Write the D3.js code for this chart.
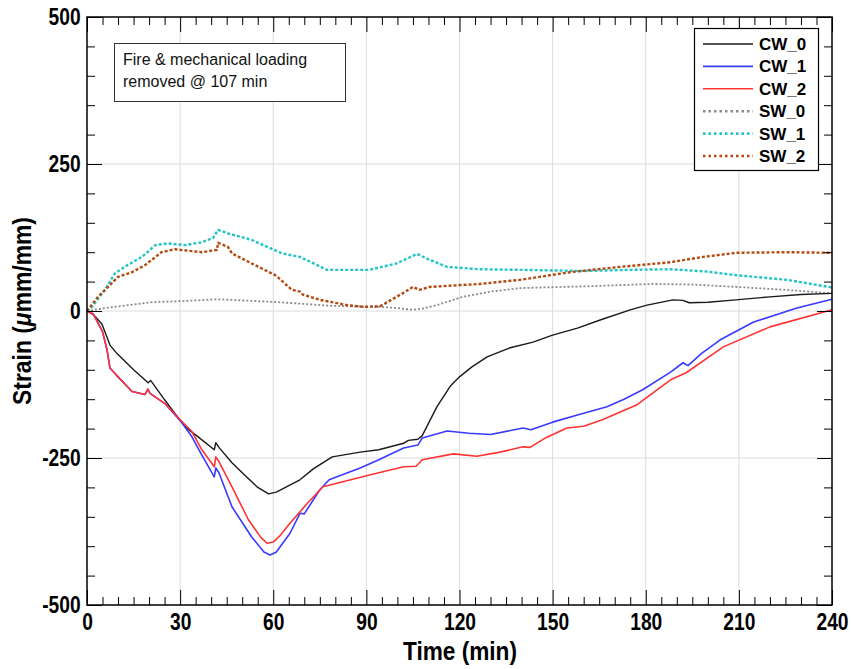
<!DOCTYPE html>
<html>
<head>
<meta charset="utf-8">
<script src="https://cdn.jsdelivr.net/npm/d3@7"></script>
<style>
  body { margin: 0; background: #fff; }
  svg { display: block; }
</style>
</head>
<body>
<svg id="chart" width="851" height="669"></svg>
<script>
// ---- data ----
const xTicks = [0, 30, 60, 90, 120, 150, 180, 210, 240];
const yTicks = [-500, -250, 0, 250, 500];
const seriesNames = ["CW_0", "CW_1", "CW_2", "SW_0", "SW_1", "SW_2"];

const cw0T = [0, 2, 4.8, 7.4, 9.6, 15, 19.7, 20.5, 25, 31.6, 36, 41, 41.5, 42.5, 46.7, 50, 55, 58.5, 61, 65, 68.6, 73, 79, 88, 94, 102, 103.5, 106.6, 108, 112.7, 117, 120, 124, 128.9, 136, 143.7, 150, 158, 166, 175, 180.4, 188.8, 192, 194, 200, 209, 220, 230, 240];
const cw0V = [0, -6, -22, -58, -72, -100, -122, -118, -151, -197, -215, -236, -224, -232, -258, -275, -300, -311, -308, -297, -287, -268, -248, -240, -236, -225, -220, -218, -212, -163, -128, -112, -95, -78, -63, -53, -41, -29, -14, 2, 10, 19, 18, 14, 15, 19, 24, 28, 30];

const cw1T = [0, 2, 5, 6.4, 7.4, 10, 14.5, 18.7, 19.6, 20.3, 25, 30.6, 33.8, 37, 41, 41.5, 42.5, 46.7, 53, 57, 59, 61, 65.4, 68.6, 70, 75, 78, 88, 94, 102, 106.6, 108, 116, 123, 130, 140.5, 143, 150, 158, 167.5, 173, 179, 188, 192, 193.6, 198, 204, 214.6, 228.7, 240];
const cw1V = [0, -5, -35, -65, -97, -112, -137, -142, -133, -140, -157, -190, -214, -245, -282, -267, -275, -333, -384, -410, -415, -410, -378, -344, -345, -304, -287, -267, -253, -233, -228, -216, -204, -208, -210, -199, -202, -189, -177, -163, -150, -134, -104, -88, -93, -72, -49, -19, 5, 20];

const cw2T = [0, 2, 5, 6.4, 7.4, 10, 14.5, 18.7, 19.6, 20.3, 25, 30.6, 33.8, 37, 41, 41.5, 42.5, 46.7, 52, 56, 58, 60, 62, 65.4, 71, 76, 80.5, 91, 102, 106, 108, 118, 125.6, 133, 140.5, 142.7, 148, 154.6, 160, 166, 177, 188, 193, 205, 220, 240];
const cw2V = [0, -5, -35, -65, -97, -112, -137, -142, -133, -140, -157, -188, -205, -236, -265, -248, -256, -299, -355, -385, -395, -393, -383, -361, -327, -299, -293, -279, -265, -264, -253, -243, -247, -240, -231, -232, -215, -199, -196, -185, -160, -117, -105, -61, -27, 2];

const sw0T = [0, 5.8, 12, 21, 31.6, 42, 50, 61.5, 70, 78, 94, 100, 105, 108, 112.7, 121, 130, 139.5, 161, 182.3, 195, 209, 225, 240];
const sw0V = [0, 5, 9, 15, 17, 20, 18, 15, 12, 9, 7, 5, 2, 4, 10, 24, 33, 39, 42, 46, 45, 41, 36, 30];

const sw1T = [0, 1.6, 5.8, 9, 13, 17.7, 22, 26, 31.6, 37, 40.6, 42.2, 45.4, 53, 62.8, 68.6, 77.3, 91, 99.8, 106.3, 110, 116, 126.6, 139.5, 160, 175, 188, 200, 209, 225.5, 240];
const sw1V = [0, 7, 36, 64, 78, 92, 112, 115, 112, 117, 124, 138, 132, 121, 98, 92, 70, 70, 81, 97, 88, 75, 71, 70, 68, 70, 71, 67, 61, 53, 40];

const sw2T = [0, 3.5, 6.8, 10, 14.5, 18.7, 24, 28.3, 37, 41.9, 42.2, 45.4, 46.7, 53, 60.6, 62, 66, 68.6, 69.5, 75, 83.8, 89, 94.4, 102, 105, 107, 110.5, 126.6, 139.5, 155.6, 171.7, 188, 198.5, 209, 225.5, 240];
const sw2V = [0, 24, 41, 58, 66, 78, 100, 105, 100, 104, 116, 109, 98, 81, 61, 55, 36, 33, 28, 19, 10, 7, 8, 31, 41, 36, 41, 46, 53, 66, 75, 83, 92, 99, 100, 99];

const annotationLines = ["Fire & mechanical loading", "removed @ 107 min"];

// ---- styles ----
const styles = {
  CW_0: { color: "#1a1a1a", width: 1.4, dash: null },
  CW_1: { color: "#3a3aff", width: 1.6, dash: null },
  CW_2: { color: "#ff3333", width: 1.6, dash: null },
  SW_0: { color: "#8a8a8a", width: 1.8, dash: "2,2" },
  SW_1: { color: "#22c4c4", width: 2.4, dash: "3,2" },
  SW_2: { color: "#b34a12", width: 2.4, dash: "3,2" }
};

const svg = d3.select("#chart");
const L = 87, R = 832, T = 17, B = 605;
const x = d3.scaleLinear().domain([0, 240]).range([L, R]);
const y = d3.scaleLinear().domain([-500, 500]).range([B, T]);
const fmt = d => String(d);

// grid
const grid = svg.append("g");
grid.selectAll("line.gx").data(xTicks.slice(1, -1)).enter().append("line")
  .attr("x1", d => x(d)).attr("x2", d => x(d)).attr("y1", T).attr("y2", B)
  .attr("stroke", "#dcdcdc").attr("stroke-width", 1);
grid.selectAll("line.gy").data(yTicks.slice(1, -1)).enter().append("line")
  .attr("x1", L).attr("x2", R).attr("y1", d => y(d)).attr("y2", d => y(d))
  .attr("stroke", "#dcdcdc").attr("stroke-width", 1);

// series
const allSeries = [
  { name: "CW_0", t: cw0T, v: cw0V },
  { name: "CW_1", t: cw1T, v: cw1V },
  { name: "CW_2", t: cw2T, v: cw2V },
  { name: "SW_0", t: sw0T, v: sw0V },
  { name: "SW_1", t: sw1T, v: sw1V },
  { name: "SW_2", t: sw2T, v: sw2V }
];
const line = d3.line().x(d => x(d[0])).y(d => y(d[1]));
const drawOrder = ["SW_0", "SW_1", "SW_2", "CW_0", "CW_1", "CW_2"];
drawOrder.forEach(n => {
  const s = allSeries.find(a => a.name === n);
  const st = styles[n];
  svg.append("path")
    .attr("d", line(s.t.map((t, i) => [t, s.v[i]])))
    .attr("fill", "none")
    .attr("stroke", st.color)
    .attr("stroke-width", st.width)
    .attr("stroke-dasharray", st.dash)
    .attr("stroke-linejoin", "round");
});

// axes
const minorX = d3.range(0, 241, 5).filter(v => v % 30 !== 0);
const minorY = d3.range(-500, 501, 50).filter(v => v % 250 !== 0);
function styleAxis(g) {
  g.select(".domain").remove();
  g.selectAll(".tick line").attr("stroke", "#000").attr("stroke-width", 1);
}
// bottom
const gb = svg.append("g").attr("transform", `translate(0,${B})`)
  .call(d3.axisBottom(x).tickValues(xTicks).tickSizeInner(-15).tickSizeOuter(0).tickPadding(8).tickFormat(fmt));
styleAxis(gb);
gb.selectAll(".tick text")
  .attr("font-family", "Liberation Sans, Arial, sans-serif")
  .attr("font-weight", "bold").attr("font-size", 24).attr("fill", "#000")
  .attr("transform", "scale(0.8,1)");
svg.append("g").attr("transform", `translate(0,${B})`)
  .call(d3.axisBottom(x).tickValues(minorX).tickSizeInner(-8).tickSizeOuter(0).tickFormat(""))
  .call(styleAxis);
// top
svg.append("g").attr("transform", `translate(0,${T})`)
  .call(d3.axisTop(x).tickValues(xTicks).tickSizeInner(-15).tickSizeOuter(0).tickFormat(""))
  .call(styleAxis);
svg.append("g").attr("transform", `translate(0,${T})`)
  .call(d3.axisTop(x).tickValues(minorX).tickSizeInner(-8).tickSizeOuter(0).tickFormat(""))
  .call(styleAxis);
// left
const gl = svg.append("g").attr("transform", `translate(${L},0)`)
  .call(d3.axisLeft(y).tickValues(yTicks).tickSizeInner(-15).tickSizeOuter(0).tickPadding(8).tickFormat(fmt));
styleAxis(gl);
gl.selectAll(".tick text")
  .attr("font-family", "Liberation Sans, Arial, sans-serif")
  .attr("font-weight", "bold").attr("font-size", 24).attr("fill", "#000")
  .attr("transform", "scale(0.8,1)");
svg.append("g").attr("transform", `translate(${L},0)`)
  .call(d3.axisLeft(y).tickValues(minorY).tickSizeInner(-8).tickSizeOuter(0).tickFormat(""))
  .call(styleAxis);
// right
svg.append("g").attr("transform", `translate(${R},0)`)
  .call(d3.axisRight(y).tickValues(yTicks).tickSizeInner(-15).tickSizeOuter(0).tickFormat(""))
  .call(styleAxis);
svg.append("g").attr("transform", `translate(${R},0)`)
  .call(d3.axisRight(y).tickValues(minorY).tickSizeInner(-8).tickSizeOuter(0).tickFormat(""))
  .call(styleAxis);

// frame
svg.append("rect").attr("x", L).attr("y", T).attr("width", R - L).attr("height", B - T)
  .attr("fill", "none").attr("stroke", "#000").attr("stroke-width", 1.5);

// axis titles
svg.append("text")
  .attr("transform", `translate(460,660) scale(0.87,1)`)
  .attr("text-anchor", "middle")
  .attr("font-family", "Liberation Sans, Arial, sans-serif")
  .attr("font-weight", "bold").attr("font-size", 26).attr("fill", "#000")
  .text("Time (min)");
const yt = svg.append("text")
  .attr("transform", `translate(31,311) rotate(-90) scale(0.88,1)`)
  .attr("text-anchor", "middle")
  .attr("font-family", "Liberation Sans, Arial, sans-serif")
  .attr("font-weight", "bold").attr("font-size", 26).attr("fill", "#000");
yt.append("tspan").text("Strain (");
yt.append("tspan").attr("font-style", "italic").text("μ");
yt.append("tspan").text("mm/mm)");

// annotation box
svg.append("rect").attr("x", 114.5).attr("y", 43.5).attr("width", 231).attr("height", 58)
  .attr("fill", "#fff").attr("stroke", "#333").attr("stroke-width", 1);
svg.append("g").selectAll("text").data(annotationLines).enter().append("text")
  .attr("x", 123).attr("y", (d, i) => 65 + i * 22)
  .attr("font-family", "Liberation Sans, Arial, sans-serif")
  .attr("font-size", 16).attr("fill", "#111")
  .text(d => d);

// legend
const lg = svg.append("g");
lg.append("rect").attr("x", 694.5).attr("y", 28.5).attr("width", 124).attr("height", 142)
  .attr("fill", "#fff").attr("stroke", "#000").attr("stroke-width", 1.2);
seriesNames.forEach((n, i) => {
  const yy = 44 + i * 22.4;
  const st = styles[n];
  lg.append("line").attr("x1", 703).attr("x2", 753).attr("y1", yy).attr("y2", yy)
    .attr("stroke", st.color).attr("stroke-width", n.startsWith("SW") ? 2.6 : 1.6)
    .attr("stroke-dasharray", st.dash ? "2.5,3" : null);
  lg.append("text").attr("x", 759).attr("y", yy + 6)
    .attr("font-family", "Liberation Sans, Arial, sans-serif")
    .attr("font-weight", "bold").attr("font-size", 17).attr("fill", "#000")
    .text(n);
});
</script>
</body>
</html>
